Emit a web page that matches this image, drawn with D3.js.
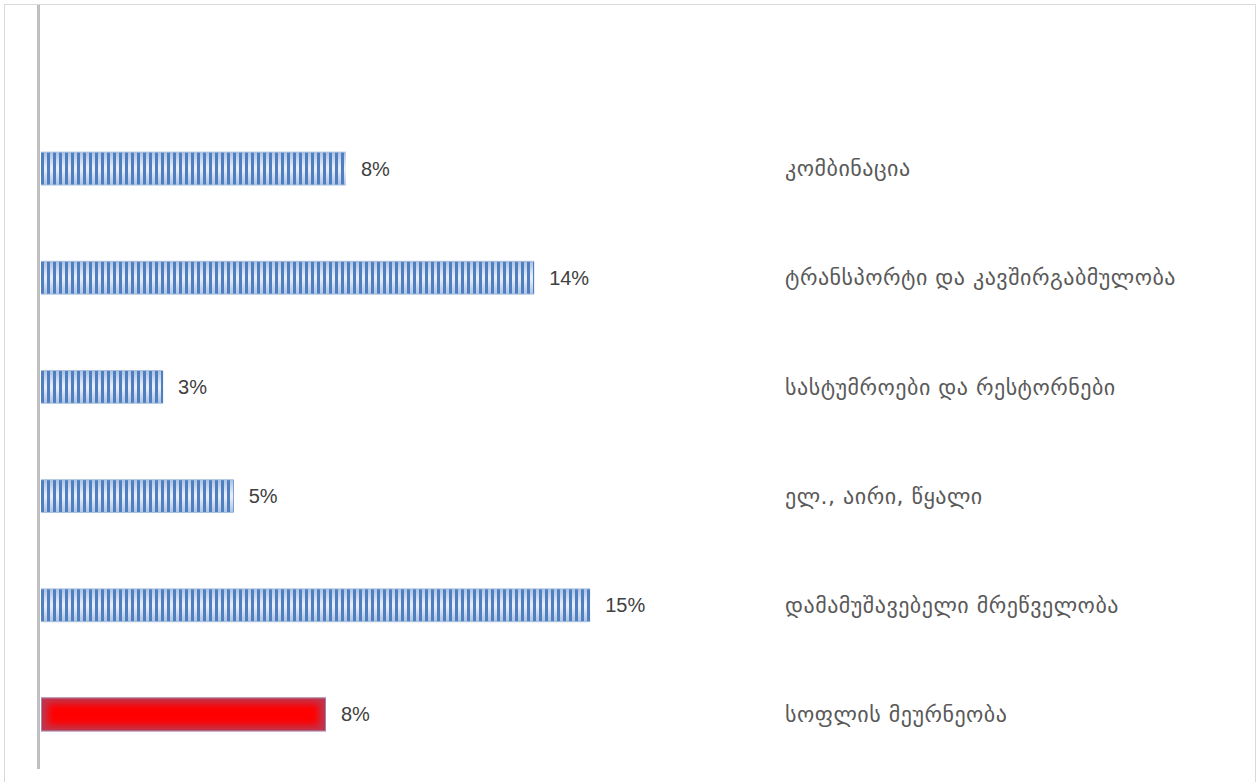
<!DOCTYPE html>
<html>
<head>
<meta charset="utf-8">
<script src="https://cdn.jsdelivr.net/npm/d3@7"></script>
<style>
body { margin: 0; background: #fff; }
</style>
</head>
<body>
<svg id="chart"></svg>
<script>
var categories = ["კომბინაცია",
                  "ტრანსპორტი და კავშირგაბმულობა",
                  "სასტუმროები და რესტორნები",
                  "ელ., აირი, წყალი",
                  "დამამუშავებელი მრეწველობა",
                  "სოფლის მეურნეობა"];
var values = [0.0845, 0.1365, 0.034, 0.0535, 0.152, 0.079];
var highlight = [0, 0, 0, 0, 0, 1];

var width = 1257;
var height = 782;
var svg = d3.select("#chart")
            .attr("width", width)
            .attr("height", height);

var defs = svg.append("defs");

// light gradient under the stripes
var g1 = defs.append("linearGradient")
             .attr("id", "lightGrad")
             .attr("x1", 0).attr("y1", 0).attr("x2", 0).attr("y2", 1);
g1.append("stop").attr("offset", "0%").attr("stop-color", "#a7bfe0");
g1.append("stop").attr("offset", "45%").attr("stop-color", "#e6edf7");
g1.append("stop").attr("offset", "55%").attr("stop-color", "#e6edf7");
g1.append("stop").attr("offset", "100%").attr("stop-color", "#a7bfe0");

var pat = defs.append("pattern")
              .attr("id", "stripes")
              .attr("patternUnits", "userSpaceOnUse")
              .attr("x", 41).attr("y", 0)
              .attr("width", 6).attr("height", 10);
pat.append("rect")
   .attr("x", 0).attr("y", 0)
   .attr("width", 3).attr("height", 10)
   .attr("fill", "#4f7fc0");

var blur = defs.append("filter")
               .attr("id", "glow")
               .attr("x", "-20%").attr("y", "-50%")
               .attr("width", "140%").attr("height", "200%");
blur.append("feGaussianBlur").attr("stdDeviation", 3.5);

// outer frame
svg.append("rect")
   .attr("x", 4.5).attr("y", 4.5)
   .attr("width", 1251).attr("height", 790)
   .attr("fill", "none")
   .attr("stroke", "#d9d9d9")
   .attr("stroke-width", 1);

var x = d3.scaleLinear()
          .domain([0, 0.2])
          .range([40, 764]);

var y = d3.scaleBand()
          .domain(categories)
          .range([114, 769])
          .paddingInner(0.69)
          .paddingOuter(0.345);

var fmt = d3.format(".0%");

var bars = svg.selectAll(".bar")
              .data(values)
              .enter()
              .append("g")
              .attr("class", "bar");

bars.each(function(d, i) {
    var g = d3.select(this);
    var x0 = x(0) + 1;
    var y0 = y(categories[i]);
    var w = x(d) - x0;
    var h = y.bandwidth();
    if (highlight[i]) {
        var cid = "clip" + i;
        defs.append("clipPath").attr("id", cid)
            .append("rect")
            .attr("x", x0).attr("y", y0)
            .attr("width", w).attr("height", h);
        g.append("rect")
         .attr("x", x0).attr("y", y0)
         .attr("width", w).attr("height", h)
         .attr("fill", "#c0344c");
        g.append("g")
         .attr("clip-path", "url(#" + cid + ")")
         .append("rect")
         .attr("x", x0 + 7).attr("y", y0 + 6)
         .attr("width", w - 14).attr("height", h - 12)
         .attr("fill", "#ff0000")
         .attr("filter", "url(#glow)");
        g.append("rect")
         .attr("x", x0 + 0.5).attr("y", y0 + 0.5)
         .attr("width", w - 1).attr("height", h - 1)
         .attr("fill", "none")
         .attr("stroke", "#8ea6d4")
         .attr("stroke-opacity", 0.7)
         .attr("stroke-width", 1);
    } else {
        g.append("rect")
         .attr("x", x0).attr("y", y0)
         .attr("width", w).attr("height", h)
         .attr("fill", "url(#lightGrad)");
        g.append("rect")
         .attr("x", x0).attr("y", y0 + 1)
         .attr("width", w).attr("height", h - 2)
         .attr("fill", "url(#stripes)");
    }
});

// value labels
svg.selectAll(".val")
   .data(values)
   .enter()
   .append("text")
   .attr("class", "val")
   .attr("x", function(d) { return x(d) + 15; })
   .attr("y", function(d, i) { return y(categories[i]) + y.bandwidth() / 2; })
   .attr("dy", "0.35em")
   .attr("font-family", "Liberation Sans, Arial, sans-serif")
   .attr("font-size", "20px")
   .attr("fill", "#404040")
   .text(function(d) { return fmt(d); });

// category labels on the right
svg.selectAll(".cat")
   .data(categories)
   .enter()
   .append("text")
   .attr("class", "cat")
   .attr("x", 785)
   .attr("y", function(d) { return y(d) + y.bandwidth() / 2; })
   .attr("dy", "0.35em")
   .attr("font-family", "DejaVu Sans, sans-serif")
   .attr("font-size", "22px")
   .attr("letter-spacing", "0.5px")
   .attr("fill", "#595959")
   .text(function(d) { return d; });

// vertical axis line
svg.append("line")
   .attr("x1", x(0) - 1.5).attr("x2", x(0) - 1.5)
   .attr("y1", 5).attr("y2", 769)
   .attr("stroke", "#bfbfbf")
   .attr("stroke-width", 3);
</script>
</body>
</html>
